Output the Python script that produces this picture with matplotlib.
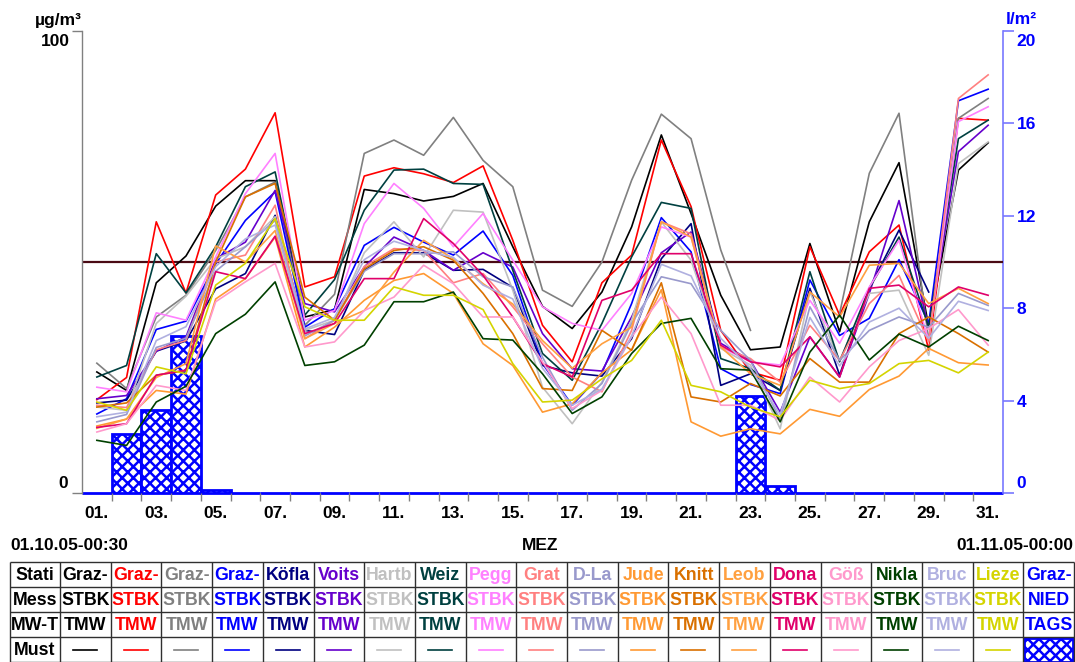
import numpy as np
import matplotlib
matplotlib.use('Agg')
import matplotlib.pyplot as plt
from matplotlib.patches import Rectangle
from matplotlib.transforms import Bbox

plt.rcParams['font.family'] = ['Liberation Sans', 'DejaVu Sans']
plt.rcParams['font.weight'] = 'bold'
plt.rcParams['hatch.linewidth'] = 1.8

nan = np.nan
days = np.arange(1, 32)
day_labels = [f"{d:02d}." for d in range(1, 32, 2)]

stations = ["Graz-", "Graz-", "Graz-", "Graz-", "Köfla", "Voits", "Hartb", "Weiz", "Pegg", "Grat",
            "D-La", "Jude", "Knitt", "Leob", "Dona", "Göß", "Nikla", "Bruc", "Lieze", "Graz-"]
components = ["STBK"] * 19 + ["NIED"]
mw_types = ["TMW"] * 19 + ["TAGS"]
colors = ["#000000", "#FF0000", "#808080", "#0000FF", "#000080", "#6600CC", "#C0C0C0", "#004040",
          "#FF80FF", "#FF8080", "#9999CC", "#FF9933", "#D97000", "#FFA040", "#E0006A", "#FF99CC",
          "#004000", "#B0B0E0", "#D4D400"]
nied_color = "#0000FF"

graz_black = [26.2, 22.2, 45.5, 51.3, 62.1, 67.6, 67.6, 38.1, 39.7, 65.7, 64.8, 63.2, 64.2, 67.0, 53.3, 40.4,
              35.6, 43.5, 57.6, 77.5, 60.5, 42.8, 31.0, 31.6, 54.0, 34.9, 58.7, 71.5, 35.9, 69.9, 75.8]
graz_red = [20.2, 25.0, 58.7, 43.3, 64.5, 70.1, 82.3, 44.6, 46.8, 68.6, 70.4, 69.1, 67.2, 70.8, 54.7, 36.3,
            28.4, 45.5, 51.5, 76.4, 62.0, 35.2, 26.2, 24.4, 53.3, 38.5, 52.2, 58.0, 30.9, 81.1, 80.7]
graz_gray = [28.1, 22.6, 38.1, 42.8, 52.5, 64.1, 67.3, 36.3, 43.0, 73.5, 76.4, 73.1, 81.3, 72.0, 66.3, 43.9,
             40.4, 50.0, 67.7, 82.0, 76.7, 52.6, 35.2, nan, nan, 38.8, 69.2, 82.2, 33.0, 81.1, 85.4]
graz_blue = [17.1, 20.4, 35.4, 37.2, 49.6, 59.0, 65.2, 35.9, 39.9, 53.6, 57.5, 54.3, 51.5, 56.7, 47.1, 28.0,
             19.0, 26.0, 41.0, 59.6, 52.2, 26.9, 23.5, 21.5, 46.1, 34.1, 37.8, 50.5, 36.7, 84.9, 87.4]
koefla = [19.5, 20.1, 30.7, 32.9, 44.2, 47.5, 60.1, 35.2, 34.3, 48.2, 52.0, 52.0, 48.2, 48.4, 44.5, 27.6,
          26.0, 25.3, 33.4, 50.7, 58.3, 23.3, 25.8, 22.2, 44.3, 25.5, 44.3, 56.9, 43.5, nan, nan]
voits = [20.4, 21.1, 30.7, 33.8, 50.7, 54.3, 65.5, 41.0, 39.2, 48.9, 55.4, 52.5, 48.2, 52.0, 48.9, 34.5,
         26.9, 26.4, 38.1, 52.0, 56.5, 32.4, 28.7, 17.5, 33.8, 25.1, 43.2, 63.3, 35.6, 73.9, 79.6]
hartb = [18.6, 17.9, 36.7, 42.6, 50.7, 53.3, 59.8, 35.2, 37.4, 52.0, 58.7, 51.1, 61.2, 60.8, 43.9, 22.9,
         15.0, 24.0, 37.4, 58.7, 50.4, 31.3, 27.7, 13.9, 43.5, 28.7, 43.2, 43.9, 29.8, 71.3, 76.0]
weiz = [25.1, 27.6, 51.8, 43.3, 53.3, 66.3, 69.5, 38.5, 46.2, 61.2, 69.9, 70.1, 67.0, 66.8, 48.2, 30.2,
        24.4, 36.7, 51.1, 62.9, 61.6, 29.1, 26.9, 22.2, 47.9, 28.4, 44.3, 55.4, 35.9, 76.7, 80.7]
pegg = [22.9, 21.9, 39.0, 37.4, 51.1, 64.8, 73.5, 37.4, 39.5, 58.3, 67.0, 61.6, 53.3, 60.5, 50.4, 40.3,
        36.7, 35.2, 43.2, 57.6, 55.4, 31.6, 28.4, 27.7, 41.7, 32.4, 44.6, 54.7, 33.0, 80.4, 83.6]
grat = [19.0, 18.5, 31.0, 33.0, 50.0, 51.5, 62.3, 33.4, 37.4, 49.0, 52.9, 52.5, 45.5, 47.5, 40.3, 32.3,
        25.1, 21.9, 35.2, 58.7, 56.1, 31.6, 29.1, 24.0, 36.3, 28.7, 41.0, 47.1, 32.7, 85.4, 90.5]
dla = [15.4, 17.0, 31.5, 33.5, 48.0, 53.3, 59.0, 34.0, 37.4, 48.0, 51.8, 51.8, 52.2, 46.8, 44.6, 29.4,
       17.9, 23.7, 36.7, 46.8, 45.3, 35.2, 28.7, 15.9, 40.3, 28.7, 35.2, 38.1, 35.9, 43.2, 40.6]
jude = [14.5, 16.0, 22.2, 21.4, 42.0, 46.4, 55.4, 31.6, 35.9, 41.7, 46.0, 47.5, 43.2, 32.3, 27.6, 17.5,
        19.3, 26.0, 31.0, 44.0, 15.4, 12.3, 13.9, 12.8, 18.1, 16.6, 22.4, 25.3, 31.3, 28.2, 27.7]
knitt = [18.6, 19.5, 25.5, 26.5, 50.0, 64.1, 67.0, 42.4, 37.4, 48.5, 52.5, 53.3, 50.4, 43.2, 34.5, 22.6,
         22.2, 35.2, 30.9, 45.5, 20.8, 19.7, 23.7, 21.0, 29.1, 24.0, 24.0, 34.5, 38.1, 34.5, 30.5]
leob = [14.0, 16.0, 25.0, 28.0, 53.5, 50.0, 56.8, 33.4, 36.7, 39.5, 47.8, 54.7, 50.7, 45.3, 40.9, 33.0,
        27.0, 32.3, 35.9, 58.7, 55.4, 31.6, 25.8, 23.3, 43.5, 38.1, 49.3, 49.7, 41.0, 44.3, 41.0]
dona = [14.2, 15.0, 25.5, 26.6, 47.9, 46.4, 55.6, 34.5, 36.7, 46.4, 46.4, 59.4, 54.0, 47.1, 38.1, 28.0,
        25.1, 41.7, 43.9, 51.8, 51.8, 32.0, 28.4, 27.3, 33.8, 25.1, 44.3, 45.0, 40.3, 44.6, 42.8]
goess = [13.2, 15.0, 23.3, 22.2, 41.4, 45.7, 49.7, 31.6, 32.7, 39.5, 42.4, 49.3, 45.3, 38.1, 38.1, 28.4,
         18.3, 22.2, 33.8, 42.4, 34.5, 19.0, 19.0, 15.7, 25.1, 19.7, 27.3, 33.0, 35.6, 39.7, 32.0]
nikla = [11.4, 10.3, 19.7, 23.1, 34.5, 38.7, 45.7, 27.6, 28.4, 32.0, 41.4, 41.4, 43.5, 33.4, 33.1, 25.8,
         17.2, 20.8, 30.2, 36.7, 37.8, 26.9, 26.6, 15.4, 30.5, 38.5, 28.8, 34.4, 31.6, 36.1, 33.0]
bruc = [16.5, 17.5, 33.0, 36.0, 49.0, 55.0, 58.0, 35.5, 38.0, 50.5, 54.5, 52.5, 51.0, 45.0, 42.0, 27.0,
        19.0, 22.5, 34.0, 49.5, 47.0, 33.5, 27.0, 17.0, 38.0, 27.5, 37.0, 40.0, 33.5, 41.5, 39.5]
lieze = [19.7, 17.9, 27.3, 25.8, 45.0, 49.7, 59.4, 40.3, 37.4, 37.4, 44.6, 42.8, 42.8, 39.7, 28.0, 19.7,
         20.1, 24.7, 28.7, 37.4, 23.3, 21.9, 18.6, 16.5, 24.4, 22.6, 23.7, 28.0, 28.7, 26.0, 30.5]

nied = [0, 2.55, 3.6, 6.8, 0.12, 0, 0, 0, 0, 0, 0, 0, 0, 0, 0, 0,
        0, 0, 0, 0, 0, 0, 4.2, 0.3, 0, 0, 0, 0, 0, 0, 0]

limit_value = 50

series = [graz_black, graz_red, graz_gray, graz_blue, koefla, voits, hartb, weiz, pegg, grat,
          dla, jude, knitt, leob, dona, goess, nikla, bruc, lieze]

W, H = 1075, 662
fig = plt.figure(figsize=(W / 100, H / 100), dpi=100)
L, R, T, B = 82, 1003, 31, 493
rect = [L / W, 1 - B / H, (R - L) / W, (B - T) / H]

# rain axis (behind)
ax2 = fig.add_axes(rect)
ax2.set_xlim(0.5, 31.5)
ax2.set_ylim(0, 20)
ax2.bar(days, nied, width=1.0, color='white', edgecolor=nied_color, hatch='xxx',
        linewidth=2.0, clip_on=False, zorder=2)
for s in ['left', 'top', 'bottom']:
    ax2.spines[s].set_visible(False)
ax2.spines['right'].set_color('#7878FF')
ax2.spines['right'].set_linewidth(1.2)
ax2.yaxis.tick_right()
ax2.set_yticks([0, 4, 8, 12, 16, 20])
ax2.set_yticklabels(['', '4', '8', '12', '16', ''])
ax2.tick_params(axis='y', length=8, width=1.2, color='#7878FF', labelcolor='#0000FF',
                labelsize=12.5, pad=2)
ax2.set_xticks([])

# pollutant axis (front)
ax = fig.add_axes(rect)
ax.patch.set_visible(False)
ax.set_xlim(0.5, 31.5)
ax.set_ylim(0, 100)
ax.axhline(limit_value, color='#4A0A14', lw=1.6, zorder=1)
for vals, c in zip(series, colors):
    ax.plot(days, vals, color=c, lw=1.2, zorder=3)
for s in ['right', 'top', 'bottom']:
    ax.spines[s].set_visible(False)
ax.spines['left'].set_color('#808080')
ax.spines['left'].set_linewidth(1.0)
ax.set_yticks([0, 100])
ax.set_yticklabels(['', ''])
ax.tick_params(axis='y', length=7.5, color='#808080', width=1.0)
ax.set_xticks(days[::2])
ax.set_xticklabels(day_labels)
ax.set_xticks(days[:-1] + 0.5, minor=True)
ax.tick_params(axis='x', which='major', length=0, pad=9, labelsize=12.5)
ax.tick_params(axis='x', which='minor', length=6, color='#808080', width=1.0)


def px(x, y):
    return x / W, 1 - y / H


fs = 12.5
fig.text(*px(82, 20), 'µg/m³', ha='right', va='center', fontsize=fs)
fig.text(*px(70, 41), '100', ha='right', va='center', fontsize=fs)
fig.text(*px(68, 484), '0', ha='right', va='center', fontsize=fs)
fig.text(*px(1006, 20), 'l/m²', ha='left', va='center', fontsize=fs, color='#0000FF')
fig.text(*px(1016, 41), '20', ha='left', va='center', fontsize=fs, color='#0000FF')
fig.text(*px(1016, 484), '0', ha='left', va='center', fontsize=fs, color='#0000FF')

fig.text(*px(10, 545), '01.10.05-00:30', ha='left', va='center', fontsize=fs)
fig.text(*px(540, 545), 'MEZ', ha='center', va='center', fontsize=fs)
fig.text(*px(1073, 545), '01.11.05-00:00', ha='right', va='center', fontsize=fs)

# legend table
ov = fig.add_axes([0, 0, 1, 1])
ov.set_xlim(0, W)
ov.set_ylim(H, 0)
ov.axis('off')

row_y = [562, 587, 612, 637, 662]
col_w = 50.7
col_x = [10, 60] + [60 + col_w * (i + 1) for i in range(20)]
line_kw = dict(color='#303030', lw=1.0, solid_capstyle='butt')
for y in row_y:
    ov.plot([col_x[0], col_x[-1]], [y, y], **line_kw)
for x in col_x:
    ov.plot([x, x], [row_y[0], row_y[-1]], **line_kw)

row_heads = ['Stati', 'Mess', 'MW-T', 'Must']
rows = [stations, components, mw_types]
all_colors = colors + [nied_color]


def cell_text(ci, ri, s, color):
    x0, x1 = col_x[ci], col_x[ci + 1]
    y0, y1 = row_y[ri], row_y[ri + 1]
    t = ov.text((x0 + x1) / 2, (y0 + y1) / 2 + 1, s, ha='center', va='center',
                fontsize=12.8, color=color)
    t.set_clip_box(Bbox.from_extents(x0 + 1, H - y1, x1 - 1, H - y0))
    t.set_clip_on(True)


for ri, head in enumerate(row_heads):
    cell_text(0, ri, head, 'black')
for ri, row in enumerate(rows):
    for ci, s in enumerate(row):
        cell_text(ci + 1, ri, s, all_colors[ci])
for ci, c in enumerate(colors):
    x0 = col_x[ci + 1]
    ov.plot([x0 + 13, x0 + 37], [650, 650], color=c, lw=1.2)
xh = col_x[20]
ov.add_patch(Rectangle((xh + 1, row_y[3] + 1), col_w - 2, 24, facecolor='white',
                       edgecolor=nied_color, hatch='xxx', lw=2.0))

fig.savefig('out.png', dpi=100)
